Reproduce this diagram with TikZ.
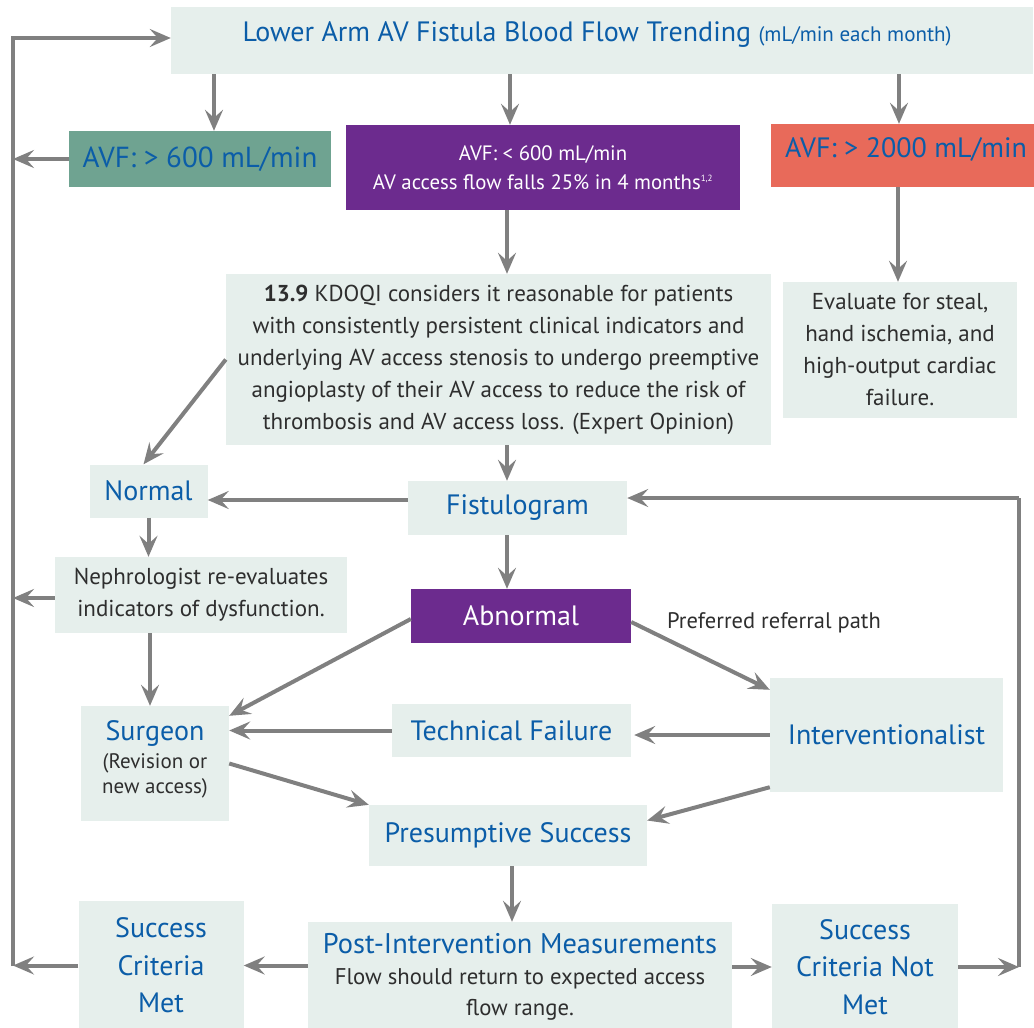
\documentclass[tikz,border=0pt]{standalone}
\usepackage{fontspec}
\setmainfont{PT Sans}
\usetikzlibrary{arrows.meta}
\definecolor{boxfill}{HTML}{E6EFEC}
\definecolor{inkblue}{HTML}{0B5DA8}
\definecolor{inkdark}{HTML}{2E2E2E}
\definecolor{linegray}{HTML}{808080}
\definecolor{okteal}{HTML}{6FA391}
\definecolor{alertpurple}{HTML}{6C2B8E}
\definecolor{alertcoral}{HTML}{E86A5A}
\tikzset{
  flowbox/.style={fill=boxfill, inner sep=0pt, align=center, anchor=center},
  headfont/.style={font=\fontsize{28}{36}\selectfont, text=inkblue},
  bodyfont/.style={font=\fontsize{23}{32}\selectfont, text=inkdark},
  arrowline/.style={draw=linegray, line width=4pt, line join=miter,
    -{Stealth[length=21pt,width=18pt,inset=8pt]}},
  plainline/.style={draw=linegray, line width=4pt}
}
\begin{document}
\begin{tikzpicture}[x=1pt,y=-1pt]
\useasboundingbox (0,0) rectangle (1034,1028);
\begin{scope}
\clip (0,0) rectangle (1034,1028);

% ---- boxes ----
\node[flowbox, minimum width=862pt, minimum height=67pt] (top) at (602,40.5) {};
\node[headfont, font=\fontsize{28}{34}\selectfont, anchor=center] (toptext) at (597,35)
  {Lower Arm AV Fistula Blood Flow Trending {\fontsize{21}{24}\selectfont (mL/min each month)}};

\node[flowbox, fill=okteal, headfont, font=\fontsize{29}{36}\selectfont,
  minimum width=262pt, minimum height=56pt] (avf600) at (200,159)
  {AVF: > 600 mL/min};
\node[flowbox, fill=alertpurple, text=white, font=\fontsize{20.8}{29}\selectfont,
  minimum width=394pt, minimum height=85pt] (avflow) at (543,167.5)
  {AVF: < 600 mL/min\\AV access flow falls 25\% in 4 months\textsuperscript{\fontsize{9}{9}\selectfont 1,2}};
\node[flowbox, fill=alertcoral, minimum width=270pt, minimum height=63pt] (avf2000) at (906,155.5) {};
\node[headfont, anchor=center] (avf2000text) at (906,149) {AVF: > 2000 mL/min};

\node[flowbox, bodyfont, minimum width=234pt, minimum height=136pt] (eval) at (900,350)
  {Evaluate for steal,\\hand ischemia, and\\high-output cardiac\\failure.};
\node[flowbox, bodyfont, minimum width=545pt, minimum height=171pt] (kdoqi) at (498.5,359.5)
  {\textbf{13.9} KDOQI considers it reasonable for patients\\
   with consistently persistent clinical indicators and\\
   underlying AV access stenosis to undergo preemptive\\
   angioplasty of their AV access to reduce the risk of\\
   thrombosis and AV access loss. (Expert Opinion)};

\node[flowbox, headfont, minimum width=118pt, minimum height=53pt] (normal) at (148.5,491) {Normal};
\node[flowbox, headfont, minimum width=219pt, minimum height=54pt] (fisto) at (517.5,508) {Fistulogram};
\node[flowbox, bodyfont, minimum width=292pt, minimum height=76pt] (nephro) at (201,595)
  {Nephrologist re-evaluates\\indicators of dysfunction.};
\node[flowbox, fill=alertpurple, text=white, font=\fontsize{28}{36}\selectfont,
  minimum width=220pt, minimum height=54pt] (abnormal) at (521,616) {Abnormal};
\node[bodyfont, font=\fontsize{22.5}{32}\selectfont, anchor=center] (preflabel) at (774,623) {Preferred referral path};

\node[flowbox, minimum width=148pt, minimum height=115pt] (surgeon) at (155,763.5) {};
\node[font=\fontsize{21}{25}\selectfont, text=inkdark, align=center, anchor=center] (surgeontext) at (155,759)
  {{\fontsize{28}{30}\selectfont\color{inkblue}Surgeon}\\[3pt](Revision or\\new access)};
\node[flowbox, headfont, minimum width=239pt, minimum height=53pt] (tech) at (511.5,730.5) {Technical Failure};
\node[flowbox, headfont, minimum width=233pt, minimum height=114pt] (interv) at (886.5,735) {Interventionalist};
\node[flowbox, headfont, minimum width=278pt, minimum height=61pt] (presump) at (508,835.5) {Presumptive Success};

\node[flowbox, font=\fontsize{22.7}{31}\selectfont, text=inkdark,
  minimum width=424pt, minimum height=110pt] (post) at (520,977)
  {{\fontsize{28.4}{31}\selectfont\color{inkblue}Post-Intervention Measurements}\\
   Flow should return to expected access\\flow range.};
\node[flowbox, headfont, font=\fontsize{28}{37.5}\selectfont, minimum width=165pt, minimum height=129pt] (met) at (161,965.5)
  {Success\\Criteria\\Met};
\node[flowbox, headfont, font=\fontsize{28}{37.5}\selectfont, minimum width=186pt, minimum height=126pt] (notmet) at (865,967)
  {Success\\Criteria Not\\Met};

% ---- connectors ----
% return loop on the left
\coordinate (lt) at (13,38);
\coordinate (lb) at (13,966);
\draw[arrowline] (lb) -- (lt) -- (top.west |- lt);
\draw[arrowline] (avf600.west) -- (lt |- avf600.west);
\draw[arrowline] ([yshift=-3pt]nephro.west) -- (lt |- 0,598);
\draw[arrowline] (met.west) -- (lt |- met.west);

% return loop on the right
\coordinate (rt) at (1019,498);
\coordinate (rb) at (1019,967);
\draw[arrowline] (notmet.east) -- (rb);
\draw[plainline] (rb) -- (rt);
\draw[arrowline] (rt) -- (fisto.east |- rt);

% from the trending box
\draw[arrowline] (top.south -| 214,0) -- (avf600.north -| 214,0);
\draw[arrowline] (top.south -| 510,0) -- (avflow.north -| 510,0);
\draw[arrowline] (top.south -| 899,0) -- (avf2000.north -| 899,0);
\draw[arrowline] (avf2000.south -| 898,0) -- (eval.north -| 898,0);

% central column
\draw[arrowline] (avflow.south -| 507,0) -- (kdoqi.north -| 507,0);
\draw[arrowline] (kdoqi.south -| 507,0) -- (fisto.north -| 507,0);
\draw[arrowline] (fisto.south -| 507,0) -- (abnormal.north -| 507,0);
\draw[arrowline] (presump.south -| 512,0) -- (post.north -| 512,0);

% normal branch
\draw[arrowline] (kdoqi.west) -- ([xshift=-5pt]normal.north);
\draw[arrowline] ([yshift=8pt]fisto.west) -- ([yshift=-9pt]normal.east);
\draw[arrowline] (normal.south) -- (nephro.north -| normal.south);
\draw[arrowline] (nephro.south -| 150,0) -- (surgeon.north -| 150,0);

% abnormal branch
\draw[arrowline] ([yshift=-3pt]abnormal.west) -- ([yshift=-10pt]surgeon.north east);
\draw[arrowline] ([yshift=-6pt]abnormal.east) -- ([yshift=-12pt]interv.north west);
\draw[arrowline] (tech.west) -- (surgeon.east |- tech.west);
\draw[arrowline] (interv.west) -- ([xshift=3pt]tech.east |- interv.west);
\draw[arrowline] (surgeon.east) -- (presump.north west);
\draw[arrowline] ([yshift=5pt]interv.south west) -- ([yshift=15pt]presump.east);

% outcome of the measurements
\draw[arrowline] (post.west |- met.east) -- (met.east);
\draw[arrowline] (post.east |- notmet.west) -- (notmet.west);
\end{scope}
\end{tikzpicture}
\end{document}
